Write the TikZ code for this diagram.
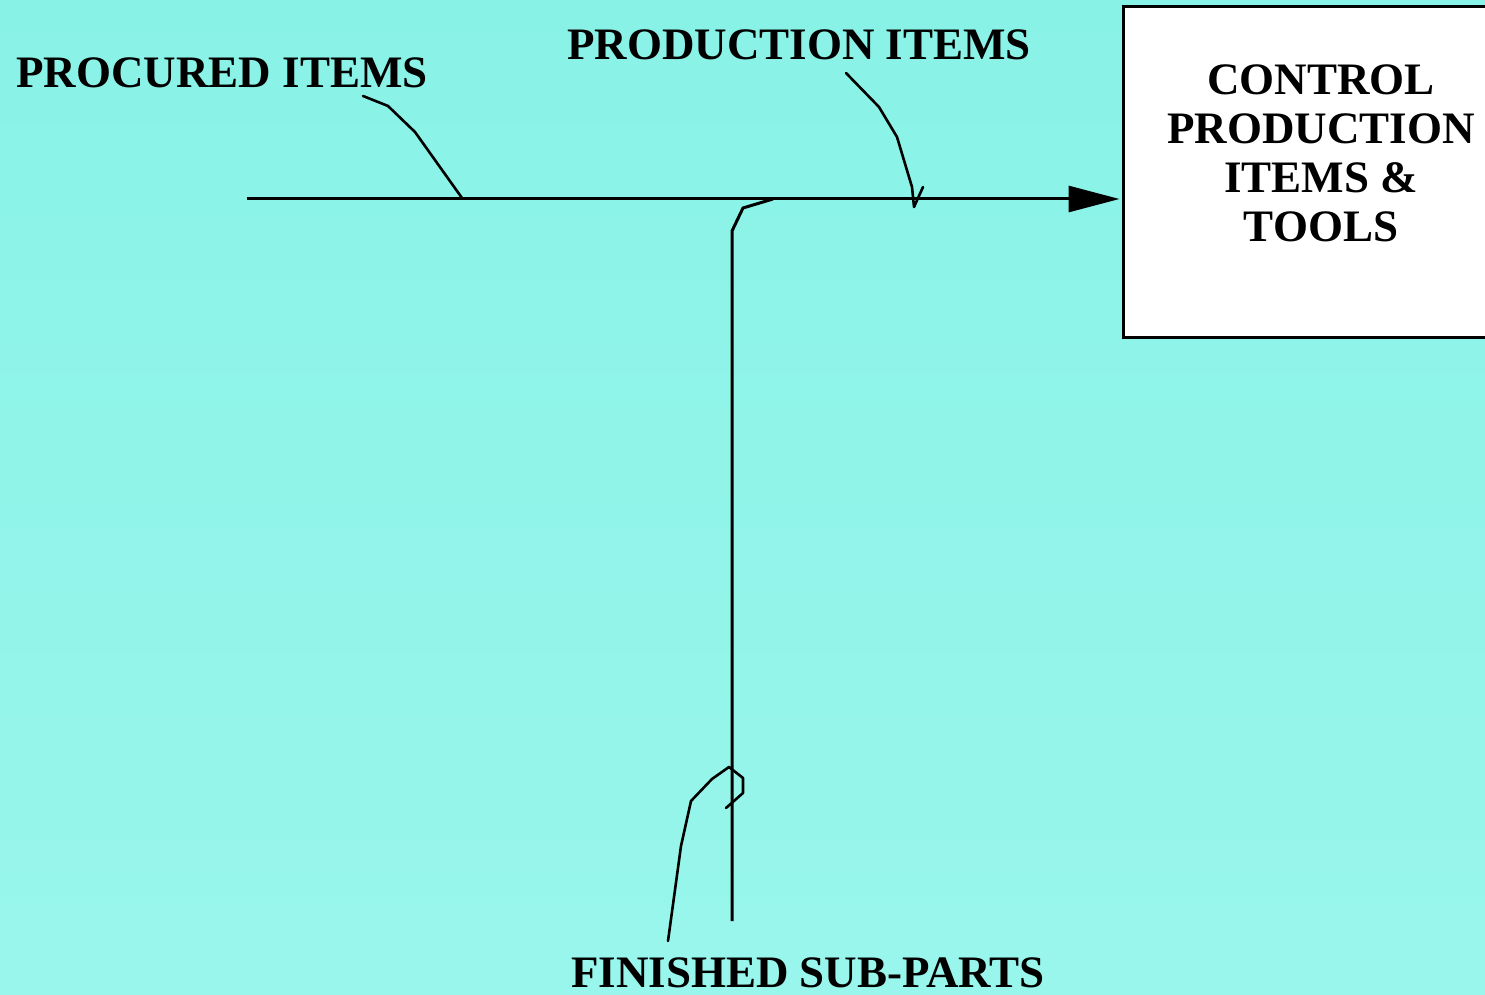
\documentclass[tikz,border=0pt]{standalone}
\usepackage{fontspec}
\setmainfont{Liberation Serif}
\usepackage{tikz}
\usetikzlibrary{arrows.meta,positioning,calc}
\definecolor{bgtop}{RGB}{137,242,231}
\definecolor{bgbottom}{RGB}{153,246,236}
\tikzset{
  flowlabel/.style={font=\fontsize{22.5}{24.5}\selectfont\bfseries,inner sep=0pt,align=center},
  flowline/.style={line width=1.5pt,line cap=butt},
  flowarrow/.style={flowline,-{Triangle[length=25.5pt,width=13pt]}},
  flowhook/.style={line width=1.3pt,line join=round,line cap=round},
  actbox/.style={draw=black,fill=white,line width=1.5pt,minimum width=186pt,minimum height=165pt,inner sep=0pt}
}

\begin{document}
\begin{tikzpicture}[x=0.5pt,y=-0.5pt]
  % page and background
  \useasboundingbox (0,0) rectangle (1485,995);
  \shade[top color=bgtop,bottom color=bgbottom] (0,0) rectangle (1485,995);
  % activity box (runs off the right edge)
  \node[actbox] (ctrl) at (1309,172) {};
  \node[flowlabel] (ctrltext) at (1321,153) {CONTROL\\PRODUCTION\\ITEMS \&\\TOOLS};
  % labels
  \node[flowlabel] (procured) at (222,73) {PROCURED ITEMS};
  \node[flowlabel] (production) at (799,45) {PRODUCTION ITEMS};
  \node[flowlabel,anchor=north] (finished) at (808,957) {FINISHED SUB-PARTS};
  % main input line into the box
  \coordinate (src) at (247,199);
  \coordinate (join) at (773,199);
  \coordinate (drop) at (732,921);
  \draw[flowarrow,shorten >=1pt] (src) -- (src -| ctrl.west);
  % branch coming up from below
  \draw[flowline] (drop) -- (732,231) -- (743,208) -- (join);
  % label hooks
  \draw[flowhook] (363,96) -- (388,106) -- (415,132) -- (462,198);
  \draw[flowhook] (846,73) -- (879,107) -- (897,137) -- (912,187) -- (914,207) -- (923,187);
  \draw[flowhook] (668,941) -- (681,846) -- (691,801) -- (712,779) -- (729,767) -- (743,778) -- (743,793) -- (726,808);
\end{tikzpicture}
\end{document}
